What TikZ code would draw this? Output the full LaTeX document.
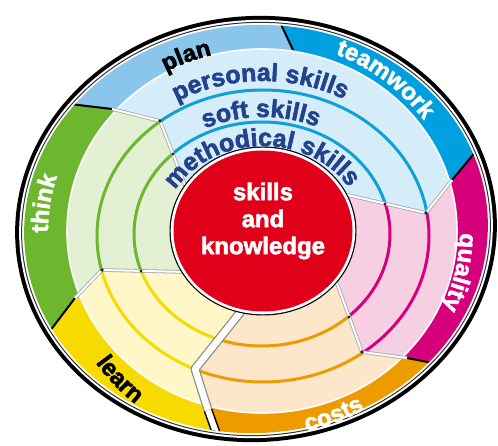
\documentclass[tikz,border=0pt]{standalone}
\usepackage{fontspec}
\setmainfont{Liberation Sans}
\newfontfamily\heavyfont{Liberation Sans}[BoldFeatures={FakeBold=2.2}]
\usetikzlibrary{decorations.text,calc}
\definecolor{cPlan}{HTML}{8AC6EC}
\definecolor{cTeam}{HTML}{00A0E0}
\definecolor{cQual}{HTML}{D6007D}
\definecolor{cCost}{HTML}{EE9B00}
\definecolor{cLearn}{HTML}{F7DB00}
\definecolor{cThink}{HTML}{6CB72E}
\definecolor{lBlue}{HTML}{D5EDF9}
\definecolor{lPink}{HTML}{F6CFE3}
\definecolor{lOrange}{HTML}{FCE7CA}
\definecolor{lYellow}{HTML}{FFF7C8}
\definecolor{lGreen}{HTML}{E3F0D3}
\definecolor{aBlue}{HTML}{11A0D6}
\definecolor{cRed}{HTML}{E1001A}
\definecolor{cText}{HTML}{22428E}
\newcommand\ringfont{\heavyfont\fontsize{25}{25}\selectfont\bfseries}
\newcommand\bandfont{\heavyfont\fontsize{24}{24}\selectfont\bfseries}
\begin{document}
\begin{tikzpicture}[x=1pt,y=-1pt,
  arcw/.style={line width=3pt},
  divider/.style={black,line width=2pt},
  ibndgrey/.style={black!35,line width=3.6pt,line join=round},
  ibndwhite/.style={white,line width=2pt,line join=round},
  widegrey/.style={black!45,line width=9pt,line join=round},
  widewhite/.style={white,line width=6.5pt,line join=round},
  junction/.style={fill=black!85}]
\useasboundingbox (0,0) rectangle (498,446);
% centres
\coordinate (C) at (262,231);
\coordinate (RC) at (263,231);
\coordinate (A1) at (262,234);
\coordinate (A2) at (263,236);
\coordinate (OC) at (256,229);
% boundary points
\coordinate (R1) at (187,190); \coordinate (M1) at (160,121); \coordinate (B1) at (112,109); \coordinate (F1) at (-14,94);
\coordinate (B2) at (293,50);  \coordinate (F2) at (248,-46);
\coordinate (R3) at (343,194); \coordinate (M3) at (426,213); \coordinate (B3) at (452,180); \coordinate (F3) at (527,90);
\coordinate (R4) at (335,278); \coordinate (M4) at (362,352); \coordinate (B4) at (407,358); \coordinate (F4) at (515,379);
\coordinate (R5) at (243,309); \coordinate (M5) at (195,369); \coordinate (B5) at (208,410); \coordinate (F5) at (238,494);
\coordinate (R6) at (187,272); \coordinate (M6) at (102,270); \coordinate (B6) at (75,298);  \coordinate (F6) at (9,385);
% outer rim
\fill[black,rotate around={4:(OC)}] (OC) ellipse [x radius=241, y radius=213];
\fill[white,rotate around={4:(OC)}] (OC) ellipse [x radius=237, y radius=209];
\draw[black!80,line width=1pt,rotate around={4:(OC)}] (OC) ellipse [x radius=234.5, y radius=206.5];
% bands
\begin{scope}
\clip[rotate around={4:(OC)}] (OC) ellipse [x radius=232, y radius=204];
\fill[cPlan]  (C)--(B1)--(F1)--(-60,-60)--(F2)--(B2)--cycle;
\fill[cTeam]  (C)--(B2)--(F2)--(560,-60)--(F3)--(B3)--cycle;
\fill[cQual]  (C)--(B3)--(F3)--(600,231)--(F4)--(B4)--cycle;
\fill[cCost]  (C)--(B4)--(F4)--(560,520)--(F5)--(B5)--cycle;
\fill[cLearn] (C)--(B5)--(F5)--(-60,520)--(F6)--(B6)--cycle;
\fill[cThink] (C)--(B6)--(F6)--(-100,231)--(F1)--(B1)--cycle;
\draw[divider] (B1)--(F1);
\draw[divider] (B2)--(F2);
\draw[divider] (B3)--(F3);
\draw[divider] (B4)--(F4);
\draw[divider] (B6)--(F6);
\draw[black,line width=9pt] (B5)--(F5);
\draw[white,line width=6pt] (B5)--(F5);
\end{scope}
% inner sectors
\begin{scope}
\clip (C) ellipse [x radius=195, y radius=182];
\begin{scope}
\clip (C)--(R1)--(M1)--(B1)--(F1)--(-60,-60)--(F2)--(560,-60)--(F3)--(B3)--(M3)--(R3)--cycle;
\fill[lBlue] (-10,-10) rectangle (510,460);
\draw[aBlue,arcw] (A1) ellipse [x radius=128, y radius=112];
\draw[aBlue,arcw] (A2) ellipse [x radius=166, y radius=146];
\end{scope}
\begin{scope}
\clip (C)--(R3)--(M3)--(B3)--(F3)--(600,231)--(F4)--(B4)--(M4)--(R4)--cycle;
\fill[lPink] (-10,-10) rectangle (510,460);
\draw[cQual,arcw] (A1) ellipse [x radius=128, y radius=112];
\draw[cQual,arcw] (A2) ellipse [x radius=166, y radius=146];
\end{scope}
\begin{scope}
\clip (C)--(R4)--(M4)--(B4)--(F4)--(560,520)--(F5)--(B5)--(M5)--(R5)--cycle;
\fill[lOrange] (-10,-10) rectangle (510,460);
\draw[cCost,arcw] (A1) ellipse [x radius=128, y radius=112];
\draw[cCost,arcw] (A2) ellipse [x radius=166, y radius=146];
\end{scope}
\begin{scope}
\clip (C)--(R5)--(M5)--(B5)--(F5)--(-60,520)--(F6)--(B6)--(M6)--(R6)--cycle;
\fill[lYellow] (-10,-10) rectangle (510,460);
\draw[cLearn,arcw] (A1) ellipse [x radius=128, y radius=112];
\draw[cLearn,arcw] (A2) ellipse [x radius=166, y radius=146];
\end{scope}
\begin{scope}
\clip (C)--(R6)--(M6)--(B6)--(F6)--(-100,231)--(F1)--(B1)--(M1)--(R1)--cycle;
\fill[lGreen] (-10,-10) rectangle (510,460);
\draw[cThink,arcw] (A1) ellipse [x radius=128, y radius=112];
\draw[cThink,arcw] (A2) ellipse [x radius=166, y radius=146];
\end{scope}
\end{scope}
\draw[white,line width=1.6pt] (C) ellipse [x radius=195, y radius=182];
% inner boundaries
\draw[ibndgrey] (R1)--(M1)--(B1);
\draw[ibndwhite] (R1)--(M1)--(B1);
\draw[ibndgrey] (R3)--(M3)--(B3);
\draw[ibndwhite] (R3)--(M3)--(B3);
\draw[ibndgrey] (R4)--(M4)--(B4);
\draw[ibndwhite] (R4)--(M4)--(B4);
\draw[ibndgrey] (R6)--(M6)--(B6);
\draw[ibndwhite] (R6)--(M6)--(B6);
\draw[widegrey] (R5)--(M5)--(B5);
\draw[widewhite] (R5)--(M5)--(B5);
% junction dots
\foreach \p in {M1,M3,M4,M6} \fill[junction] (\p) circle [radius=1.8];
\foreach \q in {(173,154),(385,204),(349,317),(141,271)} \fill[junction] \q circle [radius=1.6];
% centre disc
\fill[black] (RC) ellipse [x radius=93.5, y radius=84.5];
\fill[white] (RC) ellipse [x radius=92.3, y radius=83.3];
\fill[cRed] (RC) ellipse [x radius=89.5, y radius=80.5];
\node[text=white,align=center,font=\heavyfont\fontsize{24}{27}\selectfont\bfseries] (core) at (263,221) {skills\\and\\knowledge};
% ring texts
\path[decorate,decoration={text along path,text={|\ringfont|personal skills},text align=center,text color=cText}]
  ($(RC)+(-150:170 and 150)$) arc [start angle=-150, end angle=-32, x radius=170, y radius=150];
\path[decorate,decoration={text along path,text={|\ringfont|soft skills},text align=center,text color=cText}]
  ($(RC)+(-150:133 and 114)$) arc [start angle=-150, end angle=-32, x radius=133, y radius=114];
\path[decorate,decoration={text along path,text={|\ringfont|methodical skills},text align=center,text color=cText}]
  ($(RC)+(-178:100 and 85)$) arc [start angle=-178, end angle=-4, x radius=100, y radius=85];
% band texts
\path[decorate,decoration={text along path,text={|\bandfont|plan},text align=center,text color=black}]
  ($(RC)+(-127:200 and 182)$) arc [start angle=-127, end angle=-97, x radius=200, y radius=182];
\path[decorate,decoration={text along path,text={|\bandfont|teamwork},text align=center,text color=white}]
  ($(RC)+(-76:198 and 190)$) arc [start angle=-76, end angle=-28, x radius=198, y radius=190];
\path[decorate,decoration={text along path,text={|\bandfont|quality},text align=center,text color=white}]
  ($(RC)+(-8:197 and 185)$) arc [start angle=-8, end angle=33, x radius=197, y radius=185];
\path[decorate,decoration={text along path,text={|\bandfont|costs},text align=center,text color=white}]
  ($(RC)+(89:205 and 205)$) arc [start angle=89, end angle=49, x radius=205, y radius=205];
\path[decorate,decoration={text along path,text={|\bandfont|learn},text align=center,text color=black}]
  ($(RC)+(155:210 and 218)$) arc [start angle=155, end angle=115, x radius=210, y radius=218];
\path[decorate,decoration={text along path,text={|\bandfont|think},text align=center,text color=white}]
  ($(RC)+(-192:215 and 190)$) arc [start angle=-192, end angle=-152, x radius=215, y radius=190];
\end{tikzpicture}
\end{document}
